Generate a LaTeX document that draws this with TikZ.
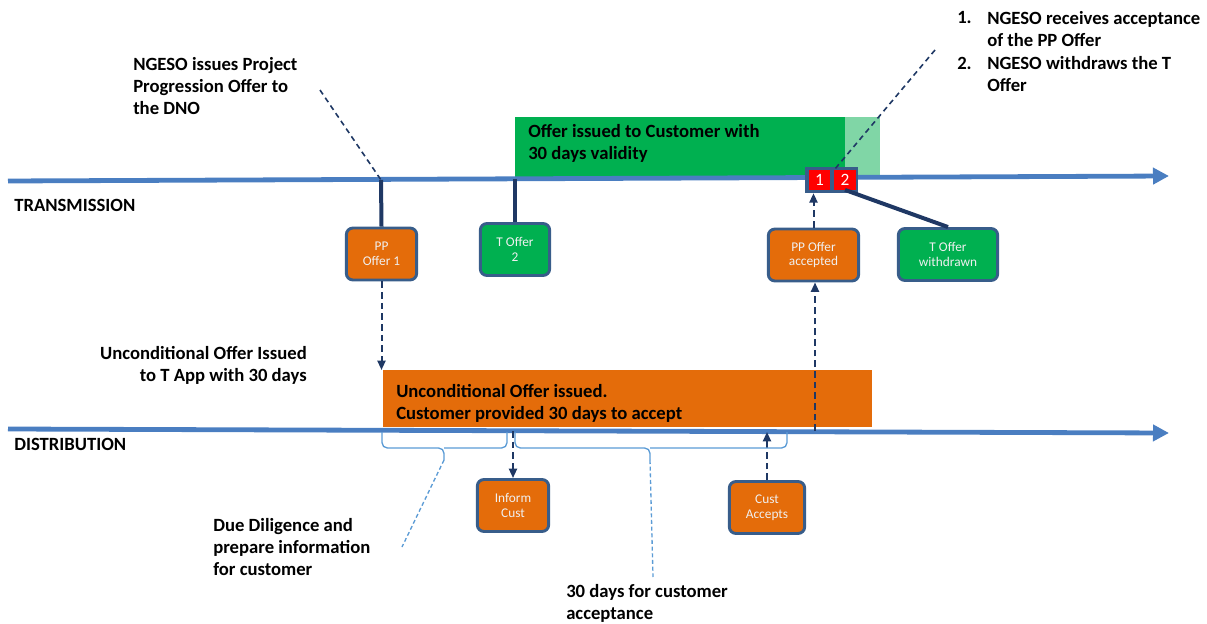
\documentclass[tikz,border=0pt]{standalone}
\usepackage{fontspec}
\setmainfont{Carlito}
\usepackage{xcolor}
\usetikzlibrary{arrows.meta,positioning}
\definecolor{lineblue}{RGB}{74,126,193}
\definecolor{deepnavy}{RGB}{31,56,100}
\definecolor{edgeblue}{RGB}{56,93,138}
\definecolor{offerorange}{RGB}{228,108,10}
\definecolor{offergreen}{RGB}{0,176,80}
\definecolor{palegreen}{RGB}{128,214,166}
\definecolor{braceblue}{RGB}{91,155,213}
\definecolor{badgered}{RGB}{255,0,0}

\begin{document}
\begin{tikzpicture}[x=0.75pt, y=-0.75pt,
  every node/.style = {inner sep=0pt, font=\fontsize{14}{16.5}\selectfont\bfseries},
  timeline/.style = {draw=lineblue, line width=3.6pt, -{Triangle[length=12pt,width=12pt]}},
  eventbox/.style = {shape=rectangle, rounded corners=5pt, draw=edgeblue,
    line width=2.2pt, text=white!94!black, align=center,
    minimum height=39pt, font=\fontsize{10}{11}\selectfont},
  orangebox/.style = {eventbox, fill=offerorange},
  greenbox/.style = {eventbox, fill=offergreen},
  stem/.style = {draw=deepnavy, line width=3pt},
  flow/.style = {draw=deepnavy, line width=1.5pt, dash pattern=on 5pt off 3pt,
    -{Triangle[length=7pt,width=6pt]}},
  pointer/.style = {draw=deepnavy, line width=1.2pt, dash pattern=on 4pt off 3pt},
  bracket/.style = {draw=braceblue, line width=1pt, rounded corners=4pt},
  hint/.style = {draw=braceblue, line width=1pt, dash pattern=on 3pt off 2pt},
  badge/.style = {fill=badgered, text=white, minimum width=16pt, minimum height=14.5pt,
    font=\fontsize{13}{13}\selectfont}]
  \useasboundingbox (0,0) rectangle (1207,624);

  % bars behind the timelines
  \node (validity) [fill=offergreen, anchor=north west, minimum width=247.5pt,
    minimum height=45.75pt] at (515,117) {};
  \node (grace) [fill=palegreen, anchor=north west, minimum width=26.25pt,
    minimum height=45.75pt] at (845,117) {};
  \node (uncond) [fill=offerorange, anchor=north west, minimum width=366.75pt,
    minimum height=42.75pt] at (383,370) {};
  \node [anchor=base west, align=left] at (528,160)
    {Offer issued to Customer with\\30 days validity};
  \node [anchor=base west, align=left] at (396,419)
    {Unconditional Offer issued.\\Customer provided 30 days to accept};

  % timelines
  \coordinate (trans start) at (8,181);
  \coordinate (trans end) at (1169,176);
  \coordinate (dist start) at (8,429);
  \coordinate (dist end) at (1169,433);
  \draw[timeline] (trans start) -- (trans end);
  \draw[timeline] (dist start) -- (dist end);
  \node [anchor=base west] at (14,212) {TRANSMISSION};
  \node [anchor=base west] at (14,450) {DISTRIBUTION};

  % transmission events
  \node (pp offer) [orangebox, minimum width=52.75pt] at (381.5,254) {PP\\Offer 1};
  \node (t offer) [greenbox, minimum width=52pt] at (515,249.5) {T Offer\\2};
  \node (pp accepted) [orangebox, minimum width=67.75pt] at (813.5,255) {PP Offer\\accepted};
  \node (t withdrawn) [greenbox, minimum width=74.5pt] at (948,254.5) {T Offer\\withdrawn};
  \coordinate (pp tick) at (381,180);
  \coordinate (t tick) at (515,179);
  \draw[stem] (pp tick) -- (pp offer.north);
  \draw[stem] (t tick) -- (t offer.north);

  % badges on the transmission line
  \node (badges) [fill=edgeblue, minimum width=39.75pt, minimum height=19.5pt] at (831.5,180) {};
  \node (badge one) [badge] at (819.5,180) {1};
  \node (badge two) [badge] at (845,180) {2};
  \draw[flow] (pp accepted.north) -- (pp accepted.north |- badges.south);
  \draw[stem] (badge two.south) -- (t withdrawn.north);

  % distribution events
  \node (inform) [orangebox, minimum width=53.5pt] at (513,505.5) {Inform\\Cust};
  \node (cust accepts) [orangebox, minimum width=56.5pt] at (767,507.5) {Cust\\Accepts};
  \coordinate (inform tick) at (513,431);
  \coordinate (accept tick) at (767,432);
  \coordinate (pp accept tick) at (815,431);
  \draw[flow] (pp offer.south) -- (pp offer.south |- uncond.north);
  \draw[flow] (inform tick) -- (inform.north);
  \draw[flow] (cust accepts.north) -- (accept tick);
  \draw[flow] (pp accept tick) -- (pp accept tick |- pp accepted.south);

  % brackets under the distribution line
  \coordinate (due tip) at (444,460);
  \coordinate (days tip) at (650,460);
  \draw[bracket] (382,432) -- (382,448) -- (444,448) -- (due tip);
  \draw[bracket] (444,448) -- (507,448) -- (507,432);
  \draw[bracket] (515,432) -- (515,448) -- (650,448) -- (days tip);
  \draw[bracket] (650,448) -- (787,448) -- (787,432);

  % annotations
  \node (issue note) [anchor=base west, align=left] at (133,115)
    {NGESO issues Project\\Progression Offer to\\the DNO};
  \coordinate (issue end) at (320,90);
  \draw[pointer] (issue end) -- (pp tick);
  \node (num one) [anchor=base west] at (957,24) {1.};
  \node (step one) [anchor=base west, align=left] at (987,47)
    {NGESO receives acceptance\\of the PP Offer};
  \node (num two) [anchor=base west] at (957,70) {2.};
  \node (step two) [anchor=base west, align=left] at (987,92)
    {NGESO withdraws the T\\Offer};
  \coordinate (steps end) at (935,50);
  \draw[pointer] (steps end) -- (badge two.north west);
  \node (app note) [anchor=base east, align=right] at (307,381)
    {Unconditional Offer Issued\\to T App with 30 days};
  \node (due note) [anchor=base west, align=left] at (213,575)
    {Due Diligence and\\prepare information\\for customer};
  \coordinate (due end) at (402,547);
  \draw[hint] (due tip) -- (due end);
  \node (days note) [anchor=base west, align=left] at (566,619)
    {30 days for customer\\acceptance};
  \coordinate (days end) at (653,577);
  \draw[hint] (days tip) -- (days end);
\end{tikzpicture}
\end{document}
